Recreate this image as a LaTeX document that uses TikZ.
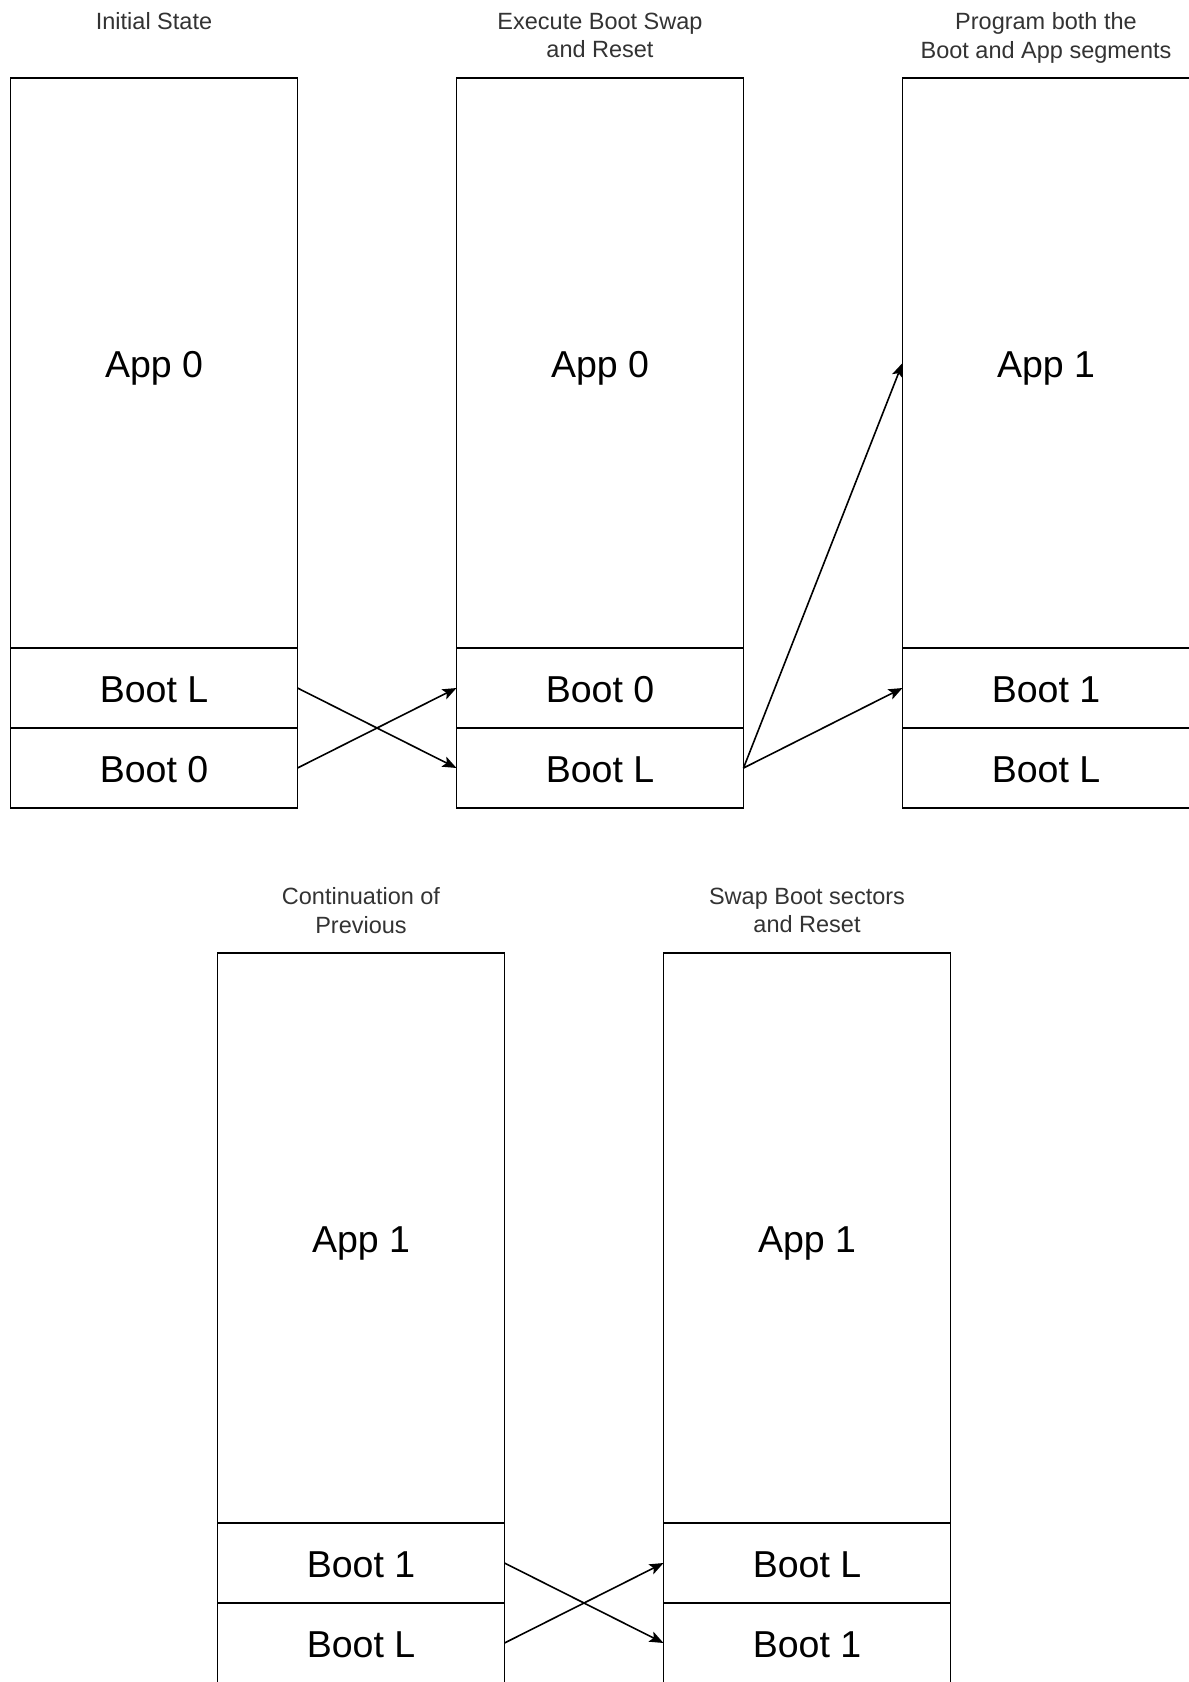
\documentclass[tikz,border=0pt]{standalone}
\usepackage{fontspec}
\setmainfont{Liberation Sans}
\usetikzlibrary{arrows.meta}
\begin{document}
\begin{tikzpicture}[x=1pt,y=-1pt,
  seg/.style={draw=black, line width=1.8pt, minimum width=287pt, inner sep=0pt, outer sep=0pt, anchor=north west, font=\fontsize{37.5}{44}\selectfont, text height=29.6pt, text depth=0pt},
  app/.style={seg, minimum height=570pt},
  boot/.style={seg, minimum height=80pt},
  title/.style={anchor=north, inner sep=0pt, align=center, text=black!80, font=\fontsize{23.5}{28.5}\selectfont},
  arr/.style={line width=1.6pt, -{Stealth[length=14pt,width=11pt,inset=3pt]}}]
\fill[white] (0,0) rectangle (1189,1682);
\useasboundingbox (0,0) rectangle (1189,1682);
% top row
\node[app]  (a1)  at (10.5,78)  {App 0};
\node[boot] (b1u) at (10.5,648) {Boot L};
\node[boot] (b1d) at (10.5,728) {Boot 0};
\node[app]  (a2)  at (456.5,78)  {App 0};
\node[boot] (b2u) at (456.5,648) {Boot 0};
\node[boot] (b2d) at (456.5,728) {Boot L};
\node[app]  (a3)  at (902.5,78)  {App 1};
\node[boot] (b3u) at (902.5,648) {Boot 1};
\node[boot] (b3d) at (902.5,728) {Boot L};
% bottom row
\node[app]  (a4)  at (217.5,953)  {App 1};
\node[boot] (b4u) at (217.5,1523) {Boot 1};
\node[boot] (b4d) at (217.5,1603) {Boot L};
\node[app]  (a5)  at (663.5,953)  {App 1};
\node[boot] (b5u) at (663.5,1523) {Boot L};
\node[boot] (b5d) at (663.5,1603) {Boot 1};
% titles
\node[title] (t1) at (154,12.7) {Initial State};
\node[title] (t2) at (600,12.7) {Execute Boot Swap\\and Reset};
\node[title] (t3) at (1046,12.7) {Program both the\\Boot and App segments};
\node[title] (t4) at (361,887.7) {Continuation of\\Previous};
\node[title] (t5) at (807,887.7) {Swap Boot sectors\\and Reset};
% arrows
\draw[arr] (b1u.east) -- (b2d.west);
\draw[arr] (b1d.east) -- (b2u.west);
\draw[arr] (b2d.east) -- (a3.west);
\draw[arr] (b2d.east) -- (b3u.west);
\draw[arr] (b4u.east) -- (b5d.west);
\draw[arr] (b4d.east) -- (b5u.west);
\end{tikzpicture}
\end{document}
